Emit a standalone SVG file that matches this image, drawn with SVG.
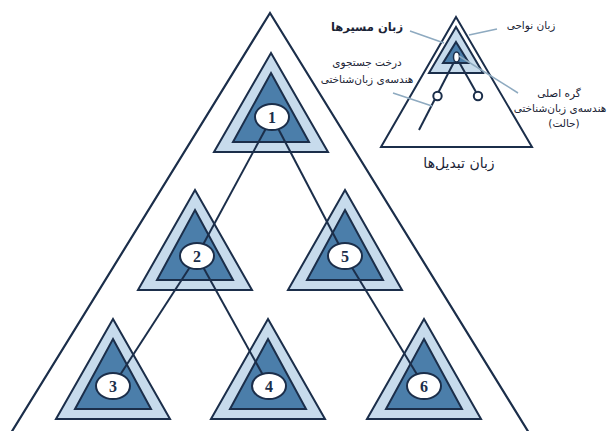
<svg xmlns="http://www.w3.org/2000/svg" width="610" height="431" viewBox="0 0 610 431">
<defs>
<style>
.outer{fill:#c7dbec;stroke:#1b2e4a;stroke-width:2;stroke-linejoin:miter}
.inner{fill:#4b7eaa;stroke:#1b2e4a;stroke-width:2}
.circ{fill:#ffffff;stroke:#1b2e4a;stroke-width:2}
.num{font-family:"Liberation Serif",serif;font-weight:bold;font-size:16px;fill:#1b2e4a;text-anchor:middle}
.edge{stroke:#1b2e4a;stroke-width:2;fill:none}
.frame{stroke:#1b2e4a;stroke-width:2.2;fill:none}
.ann{stroke:#8eaac0;stroke-width:1.5;fill:none}
.fa{font-family:"DejaVu Sans",sans-serif;fill:#1b2436;text-anchor:middle}
</style>
</defs>
<rect width="610" height="431" fill="#ffffff"/>
<polyline class="frame" points="6,441 270,13 534,441"/>

<g id="node1">
<polygon class="outer" points="271,53 328,152 214,152"/>
<polygon class="inner" points="271,73 309,142 233,142"/>
<ellipse class="circ" cx="272" cy="117" rx="17" ry="13"/>
<text class="num" x="272" y="122.5">1</text>
</g>
<g id="node2">
<polygon class="outer" points="195,190 252,290 138,290"/>
<polygon class="inner" points="195,210 233,280 157,280"/>
<ellipse class="circ" cx="197" cy="256" rx="17" ry="13"/>
<text class="num" x="197" y="261.5">2</text>
</g>
<g id="node5">
<polygon class="outer" points="345,190 402,290 288,290"/>
<polygon class="inner" points="345,210 383,280 307,280"/>
<ellipse class="circ" cx="345" cy="256" rx="17" ry="13"/>
<text class="num" x="345" y="261.5">5</text>
</g>
<g id="node3">
<polygon class="outer" points="113,319 170,419 56,419"/>
<polygon class="inner" points="113,339 151,409 75,409"/>
<ellipse class="circ" cx="113" cy="386" rx="17" ry="13"/>
<text class="num" x="113" y="391.5">3</text>
</g>
<g id="node4">
<polygon class="outer" points="268,319 325,419 211,419"/>
<polygon class="inner" points="268,339 306,409 230,409"/>
<ellipse class="circ" cx="269" cy="386" rx="17" ry="13"/>
<text class="num" x="269" y="391.5">4</text>
</g>
<g id="node6">
<polygon class="outer" points="424,319 481,419 367,419"/>
<polygon class="inner" points="424,339 462,409 386,409"/>
<ellipse class="circ" cx="424" cy="386" rx="17" ry="13"/>
<text class="num" x="424" y="391.5">6</text>
</g>

<g id="connectors">
<line class="edge" x1="265.6" y1="129" x2="203.4" y2="244"/>
<line class="edge" x1="278.4" y1="129" x2="338.6" y2="244"/>
<line class="edge" x1="189.5" y1="267.7" x2="120.5" y2="374.3"/>
<line class="edge" x1="203.6" y1="268" x2="262.4" y2="374"/>
<line class="edge" x1="352.1" y1="267.8" x2="416.9" y2="374.2"/>
</g>

<g id="inset">
<polygon points="456,17 532,147 381,147" fill="#ffffff" stroke="#1b2e4a" stroke-width="2"/>
<polygon points="456,27 483,73 429,73" fill="#c7dbec" stroke="#1b2e4a" stroke-width="2"/>
<polygon points="456,42 469,63 443,63" fill="#4b7eaa" stroke="#1b2e4a" stroke-width="2"/>
<line class="edge" x1="454" y1="62" x2="419" y2="130"/>
<line class="edge" x1="459" y1="62" x2="476" y2="92"/>
<ellipse cx="456.5" cy="57" rx="3" ry="5" fill="#ffffff" stroke="#1b2e4a" stroke-width="1.5"/>
<circle cx="437.5" cy="96" r="4.2" fill="#ffffff" stroke="#1b2e4a" stroke-width="2"/>
<circle cx="478" cy="96" r="4.2" fill="#ffffff" stroke="#1b2e4a" stroke-width="2"/>
<line class="ann" x1="410" y1="31" x2="444" y2="43"/>
<line class="ann" x1="497" y1="29" x2="469" y2="35"/>
<line class="ann" x1="393" y1="93" x2="432" y2="106"/>
<line class="ann" x1="459" y1="56" x2="518" y2="93"/>
<text class="fa" x="367" y="31" font-size="11.5" font-weight="bold">زبان مسیرها</text>
<text class="fa" x="531" y="29" font-size="10.5">زبان نواحی</text>
<text class="fa" x="367" y="66" font-size="10.5">درخت جستجوی</text>
<text class="fa" x="367" y="83" font-size="10.5">هندسه‌ی زبان‌شناختی</text>
<text class="fa" x="559" y="97" font-size="10.5">گره اصلی</text>
<text class="fa" x="560" y="112" font-size="10.5">هندسه‌ی زبان‌شناختی</text>
<text class="fa" x="564" y="127" font-size="10.5">(حالت)</text>
<text class="fa" x="459" y="168" font-size="14">زبان تبدیل‌ها</text>
</g>
</svg>
